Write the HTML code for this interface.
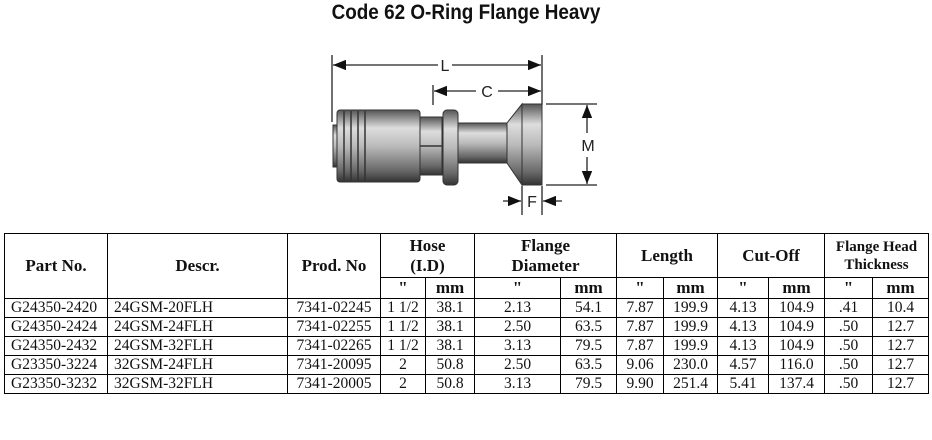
<!DOCTYPE html>
<html><head><meta charset="utf-8"><style>
body{margin:0;width:932px;height:440px;background:#fff;position:relative;overflow:hidden;font-family:"Liberation Serif",serif}
#t{position:absolute;left:0;top:1px;width:932px;text-align:center;font:bold 21px "Liberation Sans",sans-serif;transform:scaleX(0.9);color:#111}
table{position:absolute;left:4px;top:233px;border-collapse:collapse;table-layout:fixed;width:924px}
td{border:1px solid #000;padding:0 3px 0 6px;font-size:15.5px;height:18px;line-height:18px;white-space:nowrap;color:#111}
.h{font-weight:bold;text-align:center;font-size:17px;line-height:20px;padding:0}
.c{text-align:center;padding:0}
</style></head><body>
<div id="t">Code 62 O-Ring Flange Heavy</div>
<svg width="932" height="230" style="position:absolute;left:0;top:0">
<defs>
<linearGradient id="g" x1="0" y1="0" x2="0" y2="1">
<stop offset="0" stop-color="#555"/><stop offset="0.25" stop-color="#ddd"/><stop offset="0.5" stop-color="#bbb"/><stop offset="0.85" stop-color="#666"/><stop offset="1" stop-color="#333"/></linearGradient>
<marker id="a" markerWidth="10" markerHeight="8" refX="10" refY="4" orient="auto"><path d="M0,0 L10,4 L0,8 z" fill="#111"/></marker>
</defs>
<g stroke="#222" stroke-width="1.3" fill="none">
<line x1="332" y1="55" x2="332" y2="122"/><line x1="542" y1="55" x2="542" y2="105"/>
<line x1="433" y1="85" x2="433" y2="105"/>
<line x1="438" y1="65" x2="333" y2="65" marker-end="url(#a)"/><line x1="452" y1="65" x2="541" y2="65" marker-end="url(#a)"/>
<line x1="476" y1="91" x2="434" y2="91" marker-end="url(#a)"/><line x1="498" y1="91" x2="541" y2="91" marker-end="url(#a)"/>
<line x1="546" y1="104" x2="597" y2="104"/><line x1="546" y1="185" x2="597" y2="185"/>
<line x1="587" y1="133" x2="587" y2="105" marker-end="url(#a)"/><line x1="587" y1="157" x2="587" y2="184" marker-end="url(#a)"/>
<line x1="522" y1="186" x2="522" y2="215"/><line x1="542" y1="186" x2="542" y2="215"/>
<line x1="503" y1="201" x2="521" y2="201" marker-end="url(#a)"/><line x1="562" y1="201" x2="543" y2="201" marker-end="url(#a)"/>
</g>
<g font-family="Liberation Sans,sans-serif" font-size="16" fill="#222" text-anchor="middle">
<text x="445" y="71">L</text><text x="487" y="97">C</text><text x="588" y="151">M</text><text x="532" y="207">F</text></g>
<g stroke="#333" stroke-width="1" fill="url(#g)">
<rect x="333" y="125" width="6" height="42"/>
<rect x="337" y="110" width="83" height="72" rx="3"/>
<rect x="420" y="117" width="22" height="58"/>
<rect x="443" y="110" width="15" height="75" rx="4"/>
<rect x="458" y="123" width="49" height="40"/>
<path d="M507,123 L522,104 L522,185 L507,163 z"/>
<rect x="522" y="104" width="20" height="81"/>
</g>
<g stroke="#333" stroke-width="1.5"><line x1="344" y1="111" x2="344" y2="181"/><line x1="351" y1="111" x2="351" y2="181"/><line x1="358" y1="111" x2="358" y2="181"/><line x1="365" y1="111" x2="365" y2="181"/><line x1="420" y1="146" x2="442" y2="146"/></g>
</svg>
<table>
<colgroup><col style="width:103px"><col style="width:180px"><col style="width:93px"><col style="width:45px"><col style="width:49px"><col style="width:86px"><col style="width:56px"><col style="width:47px"><col style="width:54px"><col style="width:51px"><col style="width:56px"><col style="width:48px"><col style="width:56px"></colgroup>
<tr style="height:44px"><td class="h" rowspan="2">Part No.</td><td class="h" rowspan="2">Descr.</td><td class="h" rowspan="2">Prod. No</td><td class="h" colspan="2">Hose<br>(I.D)</td><td class="h" colspan="2">Flange<br>Diameter</td><td class="h" colspan="2">Length</td><td class="h" colspan="2">Cut-Off</td><td class="h" colspan="2" style="font-size:15px;line-height:18px">Flange Head<br>Thickness</td></tr>
<tr style="height:21px"><td class="h">"</td><td class="h">mm</td><td class="h">"</td><td class="h">mm</td><td class="h">"</td><td class="h">mm</td><td class="h">"</td><td class="h">mm</td><td class="h">"</td><td class="h">mm</td></tr>
<tr><td>G24350-2420</td><td>24GSM-20FLH</td><td class="c">7341-02245</td><td class="c">1 1/2</td><td class="c">38.1</td><td class="c">2.13</td><td class="c">54.1</td><td class="c">7.87</td><td class="c">199.9</td><td class="c">4.13</td><td class="c">104.9</td><td class="c">.41</td><td class="c">10.4</td></tr>
<tr><td>G24350-2424</td><td>24GSM-24FLH</td><td class="c">7341-02255</td><td class="c">1 1/2</td><td class="c">38.1</td><td class="c">2.50</td><td class="c">63.5</td><td class="c">7.87</td><td class="c">199.9</td><td class="c">4.13</td><td class="c">104.9</td><td class="c">.50</td><td class="c">12.7</td></tr>
<tr><td>G24350-2432</td><td>24GSM-32FLH</td><td class="c">7341-02265</td><td class="c">1 1/2</td><td class="c">38.1</td><td class="c">3.13</td><td class="c">79.5</td><td class="c">7.87</td><td class="c">199.9</td><td class="c">4.13</td><td class="c">104.9</td><td class="c">.50</td><td class="c">12.7</td></tr>
<tr><td>G23350-3224</td><td>32GSM-24FLH</td><td class="c">7341-20095</td><td class="c">2</td><td class="c">50.8</td><td class="c">2.50</td><td class="c">63.5</td><td class="c">9.06</td><td class="c">230.0</td><td class="c">4.57</td><td class="c">116.0</td><td class="c">.50</td><td class="c">12.7</td></tr>
<tr><td>G23350-3232</td><td>32GSM-32FLH</td><td class="c">7341-20005</td><td class="c">2</td><td class="c">50.8</td><td class="c">3.13</td><td class="c">79.5</td><td class="c">9.90</td><td class="c">251.4</td><td class="c">5.41</td><td class="c">137.4</td><td class="c">.50</td><td class="c">12.7</td></tr>
</table>
</body></html>
